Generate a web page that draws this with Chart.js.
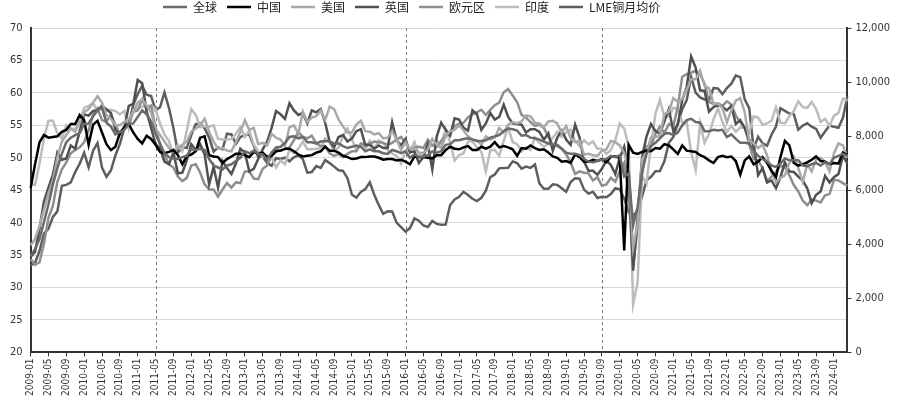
<!DOCTYPE html>
<html><head><meta charset="utf-8">
<script src="https://cdn.jsdelivr.net/npm/chart.js@4.4.1/dist/chart.umd.min.js"></script>
<style>html,body{margin:0;padding:0;background:#fff;}#wrap{width:900px;height:398px;position:relative;}</style>
</head><body><div id="wrap"><canvas id="c"></canvas></div>
<script>
// Categories: monthly labels 2009-01 .. 2024-04
const firstYear = 2009, lastYear = 2024, lastMonth = 4;
const months = [];
for (let y = firstYear; y <= lastYear; y++) {
  for (let m = 1; m <= 12; m++) {
    if (y === lastYear && m > lastMonth) break;
    months.push(y + '-' + String(m).padStart(2, '0'));
  }
}
const leftTicks = [20, 25, 30, 35, 40, 45, 50, 55, 60, 65, 70];
const rightTicks = [0, 2000, 4000, 6000, 8000, 10000, 12000];
const markerMonths = ['2011-05', '2016-01', '2019-09'];
const seriesNames = ['全球', '中国', '美国', '英国', '欧元区', '印度', 'LME铜月均价'];

const globalPMI = [
34.9,35.9,37.5,40.1,42.8,45.9,48.4,50.6,52.4,53.1,53.5,53.8,
55.2,55.3,56.4,57.3,57.7,55.4,54.8,53.6,53.9,54.3,55.2,55.3,
56.3,57.3,56.7,55.6,53.7,52.2,50.7,50.1,49.9,49.8,50.1,50.3,
51.3,51.2,51.4,51.2,49.8,48.8,48.5,48.2,48.8,49.0,49.5,50.0,
51.0,50.7,51.1,50.6,50.5,49.7,50.8,51.6,51.7,52.3,53.2,53.3,
53.0,53.2,52.4,52.4,52.2,52.5,52.6,52.5,52.2,52.2,51.8,51.5,
51.7,51.9,51.7,51.0,51.3,51.0,51.0,50.7,50.6,51.2,51.0,50.7,
51.0,50.0,50.5,50.1,50.2,50.4,51.0,50.8,51.0,52.0,52.1,52.7,
52.7,52.9,53.0,52.8,52.6,52.6,52.7,53.1,53.3,53.5,54.1,54.5,
54.4,54.2,53.4,53.5,53.1,53.0,52.8,52.5,52.2,52.0,52.0,51.4,
50.8,50.6,50.6,50.4,49.8,49.4,49.3,49.5,49.7,49.8,50.3,50.1,
50.4,47.1,47.6,39.6,42.4,47.8,50.6,51.8,52.3,53.0,53.7,53.8,
53.5,53.9,55.0,55.8,56.0,55.5,55.4,54.1,54.1,54.3,54.2,54.3,
53.2,53.6,52.9,52.3,52.3,52.2,51.1,50.3,49.8,49.4,48.8,48.6,
49.1,49.9,49.6,49.6,49.6,48.8,48.7,49.0,49.2,48.8,49.3,49.0,
50.0,50.3,50.6,50.3];

const chinaPMI = [
45.3,49.0,52.4,53.5,53.1,53.2,53.3,54.0,54.3,55.2,55.2,56.6,
55.8,52.0,55.1,55.7,53.9,52.1,51.2,51.7,53.8,54.7,55.2,53.9,
52.9,52.2,53.4,52.9,52.0,50.9,50.7,50.9,51.2,50.4,49.0,50.3,
50.5,51.0,53.1,53.3,50.4,50.2,50.1,49.2,49.8,50.2,50.6,50.6,
50.4,50.1,50.9,50.6,50.8,50.1,50.3,51.0,51.1,51.4,51.4,51.0,
50.5,50.2,50.3,50.4,50.8,51.0,51.7,51.1,51.1,50.8,50.3,50.1,
49.8,49.9,50.1,50.1,50.2,50.2,50.0,49.7,49.8,49.8,49.6,49.7,
49.4,49.0,50.2,50.1,50.1,50.0,49.9,50.4,50.4,51.2,51.7,51.4,
51.3,51.6,51.8,51.2,51.2,51.7,51.4,51.7,52.4,51.6,51.8,51.6,
51.3,50.3,51.5,51.4,51.9,51.5,51.2,51.3,50.8,50.2,50.0,49.4,
49.5,49.2,50.5,50.1,49.4,49.4,49.7,49.5,49.8,49.3,50.2,50.2,
50.0,35.7,52.0,50.8,50.6,50.9,51.1,51.0,51.5,51.4,52.1,51.9,
51.3,50.6,51.9,51.1,51.0,50.9,50.4,50.1,49.6,49.2,50.1,50.3,
50.1,50.2,49.5,47.4,49.6,50.2,49.0,49.4,50.1,49.2,48.0,47.0,
50.1,52.6,51.9,49.2,48.8,49.0,49.3,49.7,50.2,49.5,49.4,49.0,
49.2,49.1,50.8,50.4];

const usPMI = [
36.5,37.5,39.5,42.0,44.5,46.5,50.0,52.5,53.5,54.5,54.0,55.5,
57.0,57.5,58.5,59.5,58.5,56.5,56.0,55.0,55.0,55.5,56.0,57.0,
58.5,59.0,58.0,57.0,54.5,53.5,52.5,51.5,51.0,51.5,52.0,52.5,
54.0,54.5,55.0,56.0,54.0,52.5,51.4,51.5,51.1,51.0,52.4,54.0,
55.8,54.3,54.6,52.1,52.3,51.9,53.7,53.1,52.8,51.8,54.7,55.0,
53.7,57.1,55.5,56.2,56.4,57.3,55.8,57.9,57.5,55.9,54.8,53.9,
53.9,55.1,55.7,54.1,54.0,53.6,53.8,53.0,53.1,54.1,52.8,51.2,
52.4,51.3,51.5,50.8,50.7,51.3,52.9,52.0,51.5,53.4,54.1,54.3,
55.0,54.2,53.3,52.8,52.7,52.0,53.3,52.8,53.1,54.6,53.9,55.1,
55.5,55.3,55.6,56.5,56.4,55.4,55.3,54.7,55.6,55.7,55.3,53.8,
54.9,53.0,52.4,52.6,50.5,50.6,50.4,50.3,51.1,51.3,52.6,52.4,
51.9,50.7,48.5,36.1,39.8,49.8,50.9,53.1,53.2,53.4,56.7,57.1,
59.2,58.6,59.1,60.5,62.1,62.1,63.4,61.1,60.7,58.4,58.3,57.7,
55.5,57.3,58.8,59.2,57.0,52.7,52.2,51.5,52.0,50.4,47.7,46.2,
46.9,47.3,49.2,50.2,48.4,46.3,49.0,47.9,49.8,50.0,49.4,47.9,
50.7,52.2,51.9,50.0];

const ukPMI = [
34.7,35.5,39.1,43.3,45.4,47.4,50.8,49.7,49.9,51.9,51.4,54.1,
56.7,56.5,57.2,57.3,58.0,57.5,56.9,54.3,53.6,54.6,58.0,58.3,
62.0,61.5,57.1,54.6,52.1,51.4,49.4,49.0,50.8,47.6,47.7,49.6,
52.1,51.2,52.1,50.5,45.9,48.6,45.4,49.5,48.4,47.5,49.1,51.4,
50.8,47.9,48.3,49.8,51.3,52.5,54.6,57.2,56.7,56.0,58.4,57.3,
56.6,56.9,55.3,57.3,57.0,57.5,55.4,52.5,51.6,53.2,53.5,52.5,
53.0,54.1,54.4,51.9,52.0,51.4,51.9,51.5,51.5,55.5,52.7,51.9,
52.9,50.8,51.0,49.2,50.1,52.1,48.2,53.3,55.4,54.3,53.4,56.1,
55.9,54.6,54.2,57.3,56.7,54.3,55.3,56.9,55.9,56.3,58.2,56.3,
55.3,55.2,55.1,53.9,54.4,54.4,54.0,52.8,53.8,51.1,53.1,54.2,
52.8,52.0,55.1,53.1,49.4,48.0,48.0,47.4,48.3,49.6,48.9,47.5,
50.0,51.7,47.8,32.6,40.7,50.1,53.3,55.2,54.1,53.7,55.6,57.5,
54.1,55.1,58.9,60.9,65.6,63.9,60.4,60.3,57.1,57.8,58.1,57.9,
57.3,58.0,55.2,55.8,54.6,52.8,52.1,47.3,48.4,46.2,46.5,45.3,
47.0,49.3,47.9,47.8,47.1,46.5,45.3,43.0,44.3,44.8,47.2,46.2,
47.0,47.5,50.3,49.1];

const euroPMI = [
34.4,33.5,33.9,36.8,40.7,42.6,46.3,48.2,49.3,50.7,51.2,51.6,
52.4,54.2,56.6,57.6,55.8,55.6,56.7,55.1,53.7,54.6,55.3,57.1,
57.3,59.0,57.5,58.0,54.6,52.0,50.4,49.0,48.5,47.1,46.4,46.9,
48.8,49.0,47.7,45.9,45.1,45.1,44.0,45.1,46.1,45.4,46.2,46.1,
47.9,47.9,46.8,46.7,48.3,48.8,50.3,51.4,51.1,51.3,51.6,52.7,
54.0,53.2,53.0,53.4,52.2,51.8,51.8,50.7,50.3,50.6,50.1,50.6,
51.0,51.0,52.2,52.0,52.2,52.5,52.4,52.3,52.0,52.3,52.8,53.2,
52.3,51.2,51.6,51.7,51.5,52.8,52.0,51.7,52.6,53.5,53.7,54.9,
55.2,55.4,56.2,56.7,57.0,57.4,56.6,57.4,58.1,58.5,60.1,60.6,
59.6,58.6,56.6,56.2,55.5,54.9,55.1,54.6,53.2,52.0,51.8,51.4,
50.5,49.3,47.5,47.9,47.7,47.6,46.5,47.0,45.7,45.9,46.9,46.3,
47.9,49.2,44.5,33.4,39.4,47.4,51.8,51.7,53.7,54.8,53.8,55.2,
54.8,57.9,62.5,62.9,63.1,63.4,62.8,61.4,58.6,58.3,58.4,58.0,
58.7,58.2,56.5,55.5,54.6,52.1,49.8,49.6,48.4,46.4,47.1,47.8,
48.8,48.5,47.3,45.8,44.8,43.4,42.7,43.5,43.4,43.1,44.2,44.4,
46.6,46.5,46.1,45.7];

const indiaPMI = [
46.0,45.8,49.1,53.0,55.7,55.7,53.8,53.0,55.0,54.5,54.4,55.7,
57.7,58.0,58.4,57.2,58.1,57.2,57.4,57.2,56.7,57.2,54.5,57.3,
57.5,57.9,58.0,58.0,57.5,55.3,53.6,52.6,50.4,52.0,51.0,54.2,
57.5,56.6,54.7,54.9,54.8,55.0,52.9,52.8,52.8,52.9,53.7,54.7,
53.2,54.2,52.0,51.0,50.1,50.3,50.1,48.5,49.6,49.0,51.3,50.7,
51.4,52.5,51.3,51.3,51.4,51.5,53.0,52.4,51.0,51.6,53.3,54.5,
52.9,51.2,52.1,51.3,52.6,51.3,52.7,52.3,51.2,50.7,50.3,49.1,
51.1,51.1,52.4,50.5,50.7,51.7,51.8,52.6,52.1,54.4,52.3,49.6,
50.4,50.7,52.5,52.5,51.6,50.9,47.9,51.2,51.2,50.3,52.6,54.7,
52.4,52.1,51.0,51.6,51.2,53.1,52.3,51.7,52.2,53.1,54.0,53.2,
53.9,54.3,52.6,51.8,52.7,52.1,52.5,51.4,51.4,50.6,51.2,52.7,
55.3,54.5,51.8,27.4,30.8,47.2,46.0,52.0,56.8,58.9,56.3,56.4,
57.7,57.5,55.4,55.5,50.8,48.1,55.3,52.3,53.7,55.9,57.6,55.5,
54.0,54.9,54.0,54.7,54.6,53.9,56.4,56.2,55.1,55.3,55.7,57.8,
55.4,55.3,56.4,57.2,58.7,57.8,57.7,58.6,57.5,55.5,56.0,54.9,
56.5,56.9,59.1,58.8];

const lmeCopper = [
3220,3315,3750,4407,4569,5014,5216,6165,6196,6288,6676,6982,
7386,6848,7463,7745,6838,6499,6735,7284,7709,8292,8470,9147,
9556,9867,9530,9483,8959,9067,9619,9041,8300,7394,7581,7566,
8040,8441,8471,8289,7955,7423,7584,7515,8088,8062,7711,7962,
8047,8061,7646,7234,7253,7000,6907,7186,7159,7203,7071,7215,
7291,7149,6650,6674,6891,6821,7113,7002,6872,6737,6713,6446,
5831,5729,5940,6042,6295,5833,5457,5127,5217,5216,4800,4638,
4472,4599,4954,4873,4695,4642,4865,4755,4723,4731,5450,5660,
5755,5941,5825,5684,5600,5720,5985,6485,6578,6809,6826,6834,
7066,7006,6799,6874,6825,6952,6249,6051,6051,6219,6197,6073,
5939,6301,6439,6426,6022,5874,5942,5710,5760,5742,5859,6077,
6031,5687,5183,5059,5240,5761,6369,6497,6705,6711,7068,7755,
7971,8461,8999,9336,10184,9612,9433,9357,9324,9777,9765,9550,
9781,9941,10238,10183,9361,9034,7531,7981,7734,7648,8053,8357,
9036,8937,8836,8815,8234,8386,8478,8352,8270,7940,8172,8394,
8344,8310,8679,9480];

const seriesData = [globalPMI, chinaPMI, usPMI, ukPMI, euroPMI, indiaPMI, lmeCopper];
const seriesColors = ['#6a6a6a', '#000000', '#a9a9a9', '#505050', '#8e8e8e', '#bcbcbc', '#5e5e5e'];
const seriesAxis = ['y', 'y', 'y', 'y', 'y', 'y', 'y1'];

const LEGEND_START_X = 163;
const LEGEND_LIFT = 5;
const numFont = '"DejaVu Sans Condensed", "DejaVu Sans", sans-serif';

const markerPlugin = {
  id: 'markers',
  beforeDatasetsDraw(chart) {
    const { ctx, chartArea, scales } = chart;
    ctx.save();
    ctx.strokeStyle = '#7a7a7a';
    ctx.lineWidth = 1;
    ctx.setLineDash([3, 3]);
    markerMonths.forEach(m => {
      const px = Math.round(scales.x.getPixelForValue(months.indexOf(m))) + 0.5;
      ctx.beginPath();
      ctx.moveTo(px, chartArea.top);
      ctx.lineTo(px, chartArea.bottom);
      ctx.stroke();
    });
    ctx.restore();
  }
};
const legendShift = {
  id: 'legendShift',
  afterLayout(chart) {
    const lg = chart.legend;
    const pad = lg.options.labels.padding;
    const w = lg.right - lg.left;
    lg.left = LEGEND_START_X - pad;
    lg.right = lg.left + w;
    lg.top -= LEGEND_LIFT;
    lg.bottom -= LEGEND_LIFT;
  }
};

new Chart(document.getElementById('c'), {
  type: 'line',
  data: {
    labels: months,
    datasets: seriesNames.map((name, i) => ({
      label: name,
      data: seriesData[i],
      borderColor: seriesColors[i],
      backgroundColor: seriesColors[i],
      yAxisID: seriesAxis[i],
      borderWidth: 2.5,
      pointRadius: 0,
      tension: 0,
      fill: false
    }))
  },
  options: {
    responsive: true,
    maintainAspectRatio: false,
    animation: false,
    devicePixelRatio: 1,
    layout: { padding: { left: 2, right: 6, top: -4, bottom: 0 } },
    plugins: {
      tooltip: { enabled: false },
      legend: {
        position: 'top',
        align: 'start',
        labels: {
          usePointStyle: true,
          pointStyle: 'line',
          pointStyleWidth: 24,
          boxHeight: 12,
          padding: 10,
          color: '#222',
          font: { family: '"Noto Sans CJK SC", "Noto Sans", sans-serif', size: 12 }
        }
      }
    },
    scales: {
      x: {
        type: 'category',
        offset: false,
        grid: { drawOnChartArea: false, drawTicks: true, tickLength: 4, color: '#333', lineWidth: 1 },
        border: { display: true, color: '#333', width: 2 },
        ticks: {
          autoSkip: false,
          maxRotation: 90,
          minRotation: 90,
          padding: 2,
          color: '#333',
          font: { family: numFont, size: 10 },
          callback: function (val, idx) { return idx % 4 === 0 ? this.getLabelForValue(val) : null; }
        }
      },
      y: {
        position: 'left',
        min: 20, max: 70,
        afterBuildTicks: s => { s.ticks = leftTicks.map(v => ({ value: v })); },
        grid: { color: '#d9d9d9', lineWidth: 1, drawTicks: false },
        border: { display: true, color: '#333', width: 2 },
        ticks: { padding: 8, color: '#333', font: { family: numFont, size: 11 } }
      },
      y1: {
        position: 'right',
        min: 0, max: 12000,
        afterBuildTicks: s => { s.ticks = rightTicks.map(v => ({ value: v })); },
        grid: { drawOnChartArea: false, drawTicks: true, tickLength: 4, color: '#333' },
        border: { display: true, color: '#333', width: 2 },
        ticks: {
          padding: 4, color: '#333',
          font: { family: numFont, size: 11 },
          callback: v => v.toLocaleString('en-US')
        }
      }
    }
  },
  plugins: [markerPlugin, legendShift]
});
</script>
</body></html>
